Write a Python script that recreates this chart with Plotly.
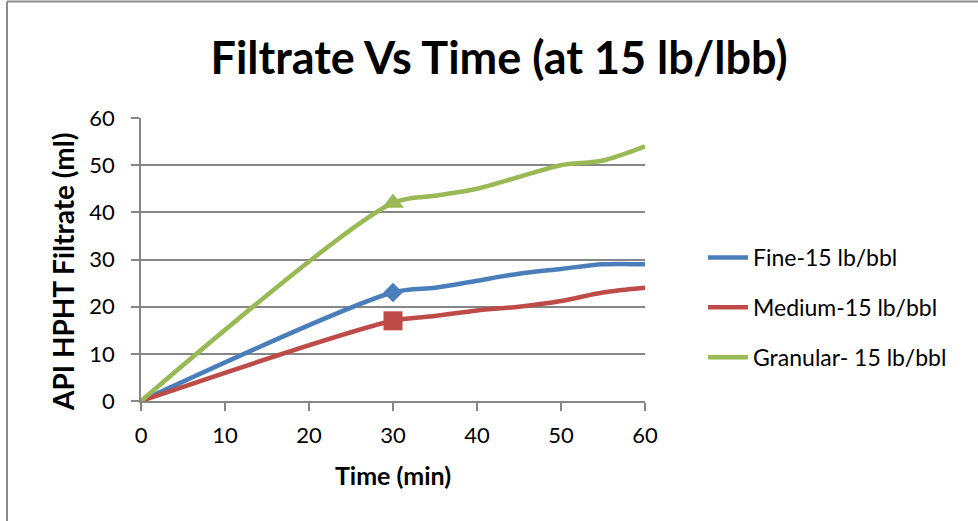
import plotly.graph_objects as go

time_min = [0, 30, 35, 40, 45, 50, 55, 60]
fine = [0, 23, 24, 25.5, 27, 28, 29, 29]
medium = [0, 17, 18, 19.2, 20, 21.2, 23, 24]
granular = [0, 42, 43.5, 45, 47.5, 50, 51, 54]
series_names = ["Fine-15 lb/bbl", "Medium-15 lb/bbl", "Granular- 15 lb/bbl"]
marker_time = 30
x_ticks = [0, 10, 20, 30, 40, 50, 60]
y_ticks = [0, 10, 20, 30, 40, 50, 60]

colors = ["#4A7EBB", "#BE4B48", "#98B954"]
symbols = ["diamond", "square", "triangle-up"]
marker_sizes = [15, 19, 19]
FONT = "Lato, 'Open Sans', sans-serif"

fig = go.Figure()
for k, (name, ys, col) in enumerate(zip(series_names, [fine, medium, granular], colors)):
    fig.add_trace(go.Scatter(
        x=time_min, y=ys, name=name, mode="lines", legendgroup=f"g{k}",
        line=dict(color=col, width=4.5, shape="spline", smoothing=0.85),
    ))
for k, (name, ys, col, sym, ms) in enumerate(zip(series_names, [fine, medium, granular], colors, symbols, marker_sizes)):
    i = time_min.index(marker_time)
    fig.add_trace(go.Scatter(
        x=[time_min[i]], y=[ys[i]], mode="markers", showlegend=False, legendgroup=f"g{k}",
        marker=dict(color=col, symbol=sym, size=ms, line=dict(width=0)),
        hoverinfo="skip", name=name,
    ))

L, R, T, B = 141, 978 - 645, 118, 521 - 401
pw, ph = 645 - 141, 401 - 118

def px_x(p):
    return (p - L) / pw

def px_y(p):
    return (401 - p) / ph

fig.update_layout(
    width=978, height=521,
    margin=dict(l=L, r=R, t=T, b=B),
    paper_bgcolor="white", plot_bgcolor="white",
    font=dict(family=FONT, color="#000000"),
    title=dict(text="<b>Filtrate Vs Time (at 15 lb/lbb)</b>",
               x=px_x(499), xanchor="center", xref="paper",
               y=1 - 58 / 521, yanchor="middle",
               font=dict(size=45, family=FONT, color="#000000")),
    xaxis=dict(range=[0, 60], tickvals=x_ticks, ticktext=[str(v) for v in x_ticks],
               showgrid=False, zeroline=False,
               showline=True, linecolor="#868686", linewidth=1.5,
               ticks="outside", ticklen=8, tickcolor="#868686", tickwidth=1.5,
               ticklabelstandoff=6,
               tickfont=dict(size=22, family=FONT), fixedrange=True,
               title=dict(text="<b>Time (min)</b>", font=dict(size=25, family=FONT), standoff=20)),
    yaxis=dict(range=[0, 60], tickvals=y_ticks, ticktext=[str(v) for v in y_ticks],
               showgrid=True, gridcolor="#868686", gridwidth=1.5, zeroline=False,
               showline=True, linecolor="#868686", linewidth=1.5,
               ticks="outside", ticklen=8, tickcolor="#868686", tickwidth=1.5,
               ticklabelstandoff=12,
               tickfont=dict(size=22, family=FONT)),
    legend=dict(x=px_x(703), xanchor="left", y=px_y(236), yanchor="top",
                font=dict(size=23, family=FONT), tracegroupgap=17,
                traceorder="grouped",
                itemwidth=40, bgcolor="rgba(0,0,0,0)"),
    showlegend=True,
)

# y-axis title, placed as in the reference
fig.add_annotation(text="<b>API HPHT Filtrate (ml)</b>", textangle=-90,
                   xref="paper", yref="paper", x=px_x(63), y=px_y(272),
                   xanchor="center", yanchor="middle", showarrow=False,
                   font=dict(size=28, family=FONT, color="#000000"))

# chart frame (left and top edges visible in reference)
fig.add_shape(type="line", xref="paper", yref="paper",
              x0=px_x(7), x1=px_x(7), y0=px_y(1.5), y1=px_y(530),
              line=dict(color="#8C8C8C", width=2))
fig.add_shape(type="line", xref="paper", yref="paper",
              x0=px_x(7), x1=px_x(990), y0=px_y(1.5), y1=px_y(1.5),
              line=dict(color="#8C8C8C", width=2))

fig.write_html("out.html")
